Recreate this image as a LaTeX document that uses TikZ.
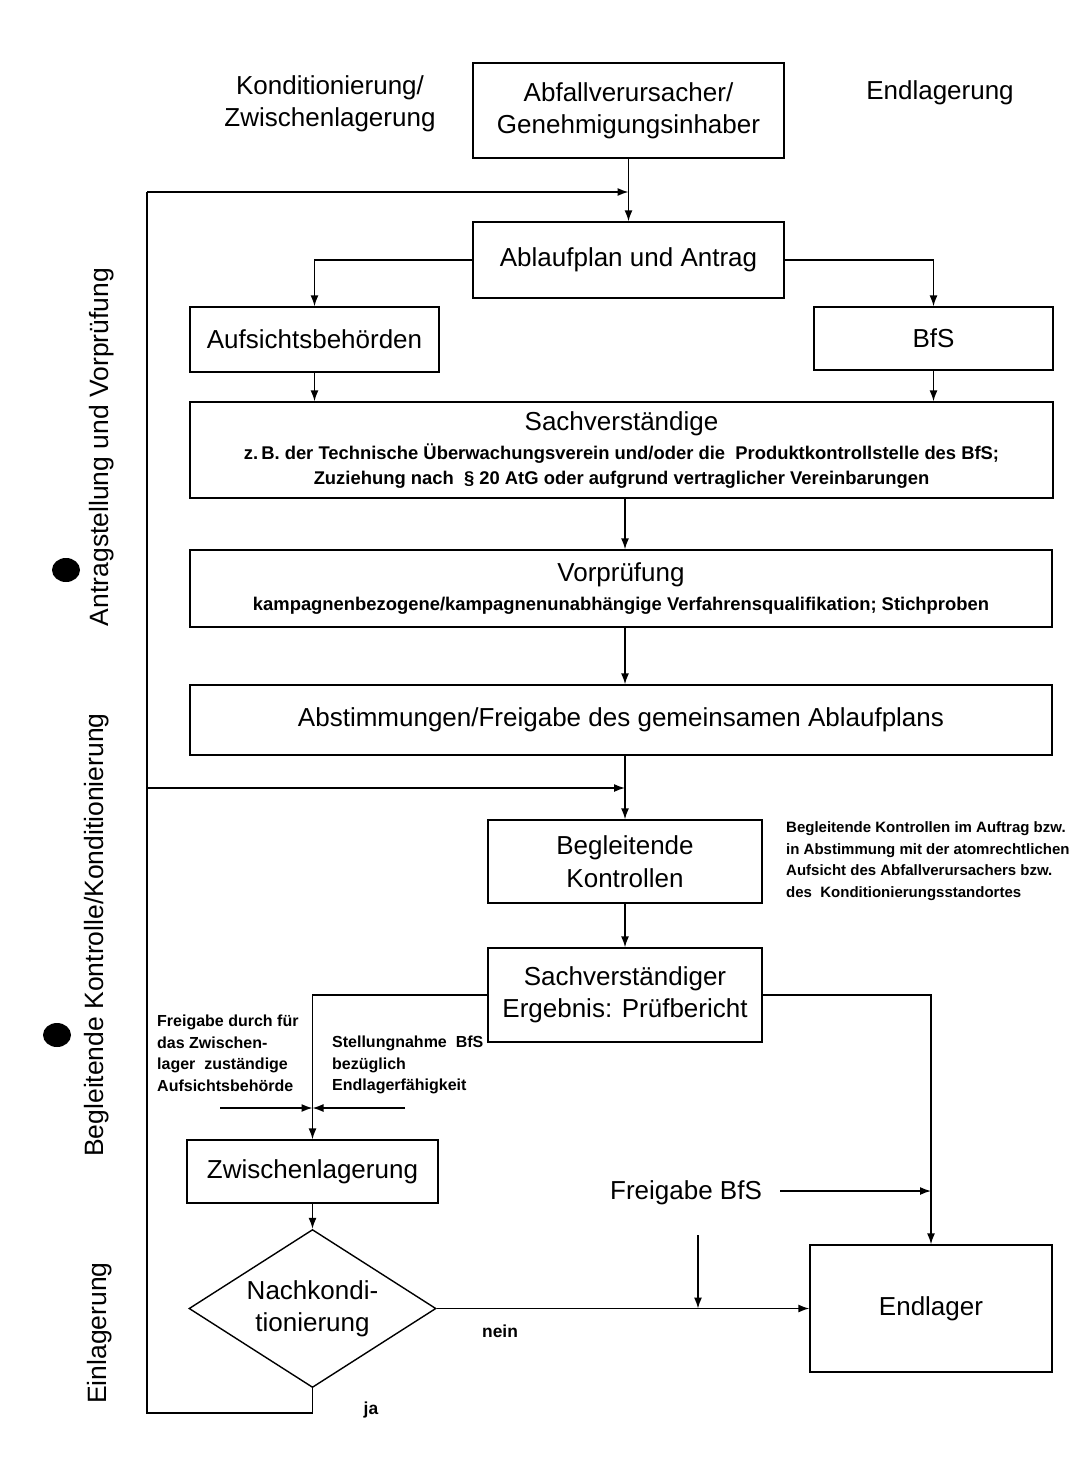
\documentclass[tikz,border=0pt]{standalone}
\usepackage{fontspec}
\setmainfont{Liberation Sans}
\usetikzlibrary{arrows.meta,shapes.geometric}
\begin{document}
\begin{tikzpicture}[x=1pt,y=-1pt,
  box/.style={draw,line width=1.4pt,inner sep=0pt,align=center},
  ln/.style={line width=1.4pt},
  arr/.style={ln,-{Latex[length=11pt,width=8pt]}},
  big/.style={font=\fontsize{26}{32}\selectfont},
  sub/.style={font=\fontsize{18.4}{25}\selectfont\bfseries},
  small/.style={font=\fontsize{16}{21.5}\selectfont\bfseries,align=left,inner sep=0pt},
  side/.style={font=\fontsize{26.5}{28}\selectfont,rotate=90}]
\useasboundingbox[fill=white] (0,0) rectangle (1074,1459);

% headers
\node[big,align=center] (hk) at (330,104) {Konditionierung/\\Zwischenlagerung};
\node[big] (he) at (940,93) {Endlagerung};
\node[box,big,minimum width=311,minimum height=95] (abf) at (628.5,110.5) {Abfallverursacher/\\Genehmigungsinhaber};

% boxes
\node[box,big,minimum width=311,minimum height=76] (abl) at (628.5,260) {Ablaufplan und Antrag};
\node[box,big,minimum width=249,minimum height=65] (auf) at (314.5,339.5) {Aufsichtsbehörden};
\node[box,big,minimum width=239,minimum height=63] (bfs) at (933.5,338.5) {BfS};
\node[box,sub,minimum width=863,minimum height=96] (sach) at (621.5,450)
  {{\fontsize{26}{32}\selectfont\mdseries Sachverständige}\\[4pt]
   z.\,B. der Technische Überwachungsverein und/oder die \ Produktkontrollstelle des BfS;\\
   Zuziehung nach \ § 20 AtG oder aufgrund vertraglicher Vereinbarungen};
\node[box,sub,minimum width=862,minimum height=77] (vor) at (621,588.5)
  {{\fontsize{26}{32}\selectfont\mdseries Vorprüfung}\\[4pt]
   kampagnenbezogene/kampagnenunabhängige Verfahrensqualifikation; Stichproben};
\node[box,big,minimum width=862,minimum height=70] (abst) at (621,720) {Abstimmungen/Freigabe des gemeinsamen Ablaufplans};
\node[box,big,minimum width=274,minimum height=83] (beg) at (625,861.5) {Begleitende\\[1pt]Kontrollen};
\node[small,font=\fontsize{15}{21.5}\selectfont\bfseries,anchor=west] (note) at (786,861) {Begleitende Kontrollen im Auftrag bzw.\\in Abstimmung mit der atomrechtlichen\\Aufsicht des Abfallverursachers bzw.\\des \ Konditionierungsstandortes};
\node[box,big,minimum width=274,minimum height=94] (sv) at (625,995) {Sachverständiger\\Ergebnis: Prüfbericht};
\node[small,anchor=north west] (fz) at (157,1015) {Freigabe durch für\\das Zwischen-\\lager \ zuständige\\Aufsichtsbehörde};
\node[small,anchor=north west] (st) at (332,1036) {Stellungnahme \ BfS\\bezüglich\\Endlagerfähigkeit};
\node[box,big,minimum width=251,minimum height=63] (zw) at (312.5,1171.5) {Zwischenlagerung};
\node[draw,line width=1.4pt,diamond,shape aspect=1.56,minimum width=247,minimum height=158,inner sep=0pt,big,align=center] (diam) at (312.5,1308.5) {Nachkondi-\\tionierung};
\node[box,big,minimum width=242,minimum height=127] (endl) at (931,1308.5) {Endlager};
\node[big] (frb) at (686,1193) {Freigabe BfS};
\node[font=\fontsize{17.4}{20}\selectfont\bfseries] (nein) at (500,1331) {nein};
\node[font=\fontsize{17.4}{20}\selectfont\bfseries] (ja) at (371,1410) {ja};

% side labels
\node[side] (s1) at (102,447) {Antragstellung und Vorprüfung};
\node[side] (s2) at (97,935) {Begleitende Kontrolle/Konditionierung};
\node[side] (s3) at (100,1333) {Einlagerung};
\fill (66,570) ellipse (14 and 12);
\fill (57,1035) ellipse (14 and 12);

% coordinates
\coordinate (L1) at (147,192);
\coordinate (L2) at (147,788);
\coordinate (Lb) at (147,1413);
\coordinate (fa) at (220,1108);
\coordinate (fb) at (405,1108);
\coordinate (fr) at (780,1191);
\coordinate (fq) at (698,1235);

% connectors
\draw[arr] (abf.south) -- (abl.north);
\draw[arr] (L1) -- (abf.south |- L1);
\draw[arr] (abl.west) -| (auf.north);
\draw[arr] (abl.east) -| (bfs.north);
\draw[arr] (auf.south) -- (auf.south |- sach.north);
\draw[arr] (bfs.south) -- (bfs.south |- sach.north);
\draw[arr] (sach.south -| beg.center) -- (vor.north -| beg.center);
\draw[arr] (vor.south -| beg.center) -- (abst.north -| beg.center);
\draw[arr] (abst.south -| beg.center) -- (beg.north);
\draw[arr] (L2) -- (beg.center |- L2);
\draw[arr] (beg.south) -- (sv.north);
\draw[arr] (sv.west) -| (zw.north);
\draw[arr] (sv.east) -| (endl.north);
\draw[arr] (fa) -- (zw.north |- fa);
\draw[arr] (fb) -- (zw.north |- fb);
\draw[arr] (zw.south) -- (diam.north);
\draw[arr] (diam.east) -- (endl.west);
\draw[arr] (fq) -- (fq |- endl.west);
\draw[arr] (fr) -- (endl.north |- fr);
\draw[ln] (diam.south) |- (Lb) -- (L1);
\end{tikzpicture}
\end{document}
